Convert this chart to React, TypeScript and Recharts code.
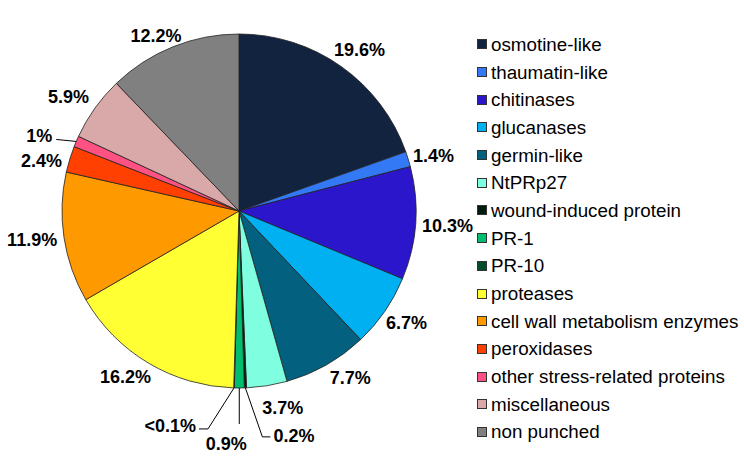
import React from "react";
import { PieChart, Pie, Cell, Legend } from "recharts";

const categories = [
  "osmotine-like",
  "thaumatin-like",
  "chitinases",
  "glucanases",
  "germin-like",
  "NtPRp27",
  "wound-induced protein",
  "PR-1",
  "PR-10",
  "proteases",
  "cell wall metabolism enzymes",
  "peroxidases",
  "other stress-related proteins",
  "miscellaneous",
  "non punched",
];

const values = [19.6, 1.4, 10.3, 6.7, 7.7, 3.7, 0.2, 0.9, 0.05, 16.2, 11.9, 2.4, 1, 5.9, 12.2];

const valueLabels = [
  "19.6%", "1.4%", "10.3%", "6.7%", "7.7%", "3.7%", "0.2%", "0.9%", "<0.1%",
  "16.2%", "11.9%", "2.4%", "1%", "5.9%", "12.2%",
];

const colors = [
  "#12233F", "#3378F5", "#2B16CC", "#00B0F0", "#03607E", "#7FFFDF", "#001A10",
  "#00BE6E", "#004D2A", "#FFFF33", "#FF9900", "#FF4000", "#FF5282", "#D9A9A9", "#808080",
];

const data = categories.map((name, i) => ({ name, value: values[i], label: valueLabels[i] }));

const FONT = "'Liberation Sans', Arial, Helvetica, sans-serif";
const LABEL_SIZE = 18;
const RADIAN = Math.PI / 180;

// leader-line layout for the thin slices (offsets from the slice edge point)
const leaders: Record<number, { dx: number; dy: number; tail: number; tx: number; ty: number; anchor: string }> = {
  6: { dx: 17, dy: 49, tail: 8, tx: 3, ty: -1, anchor: "start" },
  7: { dx: 0, dy: 36, tail: 0, tx: -13, ty: 20, anchor: "middle" },
  8: { dx: -26, dy: 41, tail: -9, tx: -3, ty: -3, anchor: "end" },
  12: { dx: -20, dy: -2, tail: 0, tx: -4, ty: -3, anchor: "end" },
};

// small nudges for label placement (collision avoidance like the original)
const nudges: Record<number, [number, number]> = {
  0: [2, 7],
  1: [-3, 6],
  2: [-2, 0],
  3: [-2, -5],
  4: [12, -8],
  5: [13, 4],
  9: [-9, -9],
  10: [2, -3],
  11: [0, 11],
  13: [-3, 6],
  14: [-8, 11],
};

function textWidth(s: string) {
  let w = 0;
  for (const ch of s) {
    if (ch === ".") w += 0.278;
    else if (ch === "%") w += 0.889;
    else if (ch === "<") w += 0.584;
    else w += 0.556;
  }
  return w * LABEL_SIZE;
}

const renderLabel = (props: any) => {
  const { cx, cy, midAngle, outerRadius, index } = props;
  const text = valueLabels[index];
  const cos = Math.cos(-midAngle * RADIAN);
  const sin = Math.sin(-midAngle * RADIAN);
  const ld = leaders[index];
  if (ld) {
    const ex = cx + outerRadius * cos;
    const ey = cy + outerRadius * sin;
    const bx = ex + ld.dx;
    const by = ey + ld.dy;
    const tx2 = bx + ld.tail;
    return (
      <g key={`lbl-${index}`}>
        <polyline
          points={`${ex},${ey} ${bx},${by} ${tx2},${by}`}
          fill="none"
          stroke="#000"
          strokeWidth={1}
        />
        <text
          x={tx2 + ld.tx}
          y={by + ld.ty}
          textAnchor={ld.anchor as any}
          dominantBaseline="central"
          fontFamily={FONT}
          fontSize={LABEL_SIZE}
          fontWeight="bold"
          fill="#000"
        >
          {text}
        </text>
      </g>
    );
  }
  const halfW = textWidth(text) / 2;
  const dist = outerRadius + 8 + halfW * Math.abs(cos) + 7 * Math.abs(sin);
  const nd = nudges[index] || [0, 0];
  const x = cx + dist * cos + nd[0];
  const y = cy + dist * sin + nd[1];
  return (
    <text
      key={`lbl-${index}`}
      x={x}
      y={y}
      textAnchor="middle"
      dominantBaseline="central"
      fontFamily={FONT}
      fontSize={LABEL_SIZE}
      fontWeight="bold"
      fill="#000"
    >
      {text}
    </text>
  );
};

const renderLegend = () => (
  <div style={{ fontFamily: FONT, fontSize: 18.8, color: "#000" }}>
    {categories.map((c, i) => (
      <div
        key={c}
        style={{ height: 27.7, display: "flex", alignItems: "center", whiteSpace: "nowrap" }}
      >
        <span
          style={{
            display: "inline-block",
            width: 10,
            height: 10,
            boxSizing: "border-box",
            border: "1px solid #333",
            background: colors[i],
            marginRight: 4,
            flex: "none",
          }}
        />
        <span style={{ lineHeight: "19px" }}>{c}</span>
      </div>
    ))}
  </div>
);

export default function App() {
  return (
    <div style={{ position: "absolute", left: 0, top: 0, width: 744, height: 465, background: "#fff" }}>
      <PieChart width={744} height={465} margin={{ top: 0, right: 0, bottom: 0, left: 0 }}>
        <Pie
          data={data}
          dataKey="value"
          nameKey="name"
          cx={239}
          cy={211}
          outerRadius={177}
          startAngle={90}
          endAngle={-270}
          stroke="#222"
          strokeWidth={0.8}
          label={renderLabel}
          labelLine={false}
          isAnimationActive={false}
        >
          {data.map((d, i) => (
            <Cell key={d.name} fill={colors[i]} />
          ))}
        </Pie>
        <Legend
          content={renderLegend}
          layout="vertical"
          wrapperStyle={{ position: "absolute", left: 477, top: 30.5, width: 267 }}
        />
      </PieChart>
    </div>
  );
}
